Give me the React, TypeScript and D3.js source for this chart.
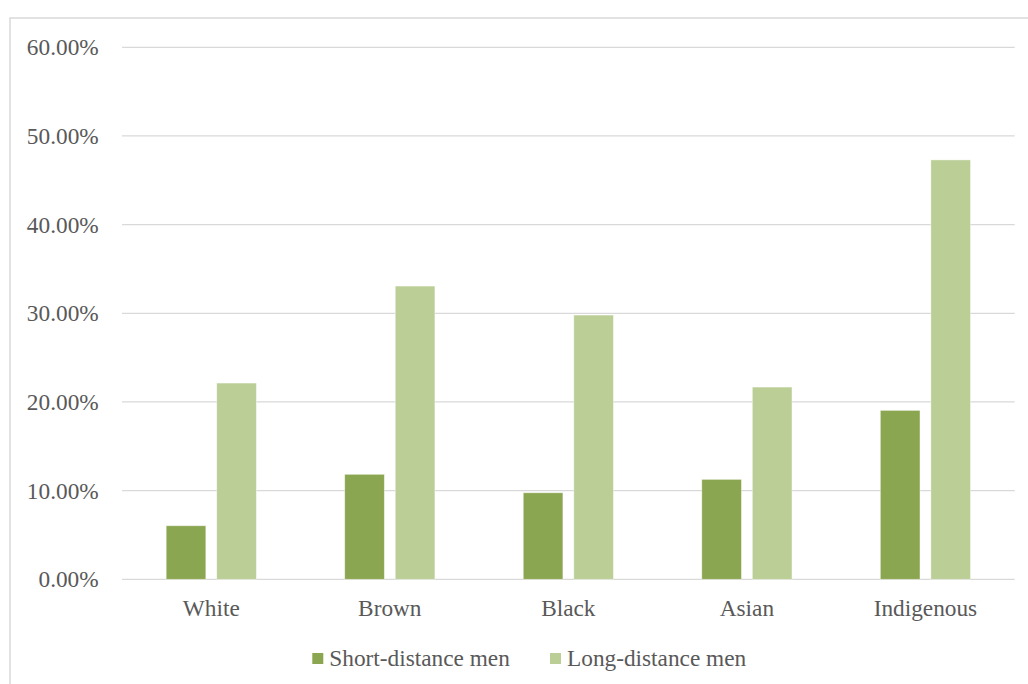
import React from "react";
import * as d3 from "d3";

const categories = ["White", "Brown", "Black", "Asian", "Indigenous"];
const seriesNames = ["Short-distance men", "Long-distance men"];
const shortDistance = [6.04, 11.84, 9.76, 11.27, 19.05];
const longDistance = [22.13, 33.07, 29.8, 21.68, 47.3];
const yTicks = [0, 10, 20, 30, 40, 50, 60];
const colors = ["#8BA650", "#BACE96"];

const W = 1028;
const H = 684;
const FONT = '"Liberation Serif", "DejaVu Serif", serif';
const TEXT = "#595959";
const textStyle = { fontFamily: FONT, fontSize: "23.3px" };

export default function App() {
  const x = d3.scaleBand<string>().domain(categories).range([122, 1014.7]).padding(0);
  const y = d3.scaleLinear().domain([0, 60]).range([579.3, 47.3]);
  const bw = x.bandwidth();
  const barW = bw * 0.222;
  const gap = barW * 0.275;
  const groupW = barW * 2 + gap;
  const inner = d3
    .scaleBand<string>()
    .domain(seriesNames)
    .range([-groupW / 2, groupW / 2])
    .paddingInner(gap / (barW + gap));
  const values = [shortDistance, longDistance];

  const legendItems = [
    { name: seriesNames[0], sx: 312.3, tx: 329.3 },
    { name: seriesNames[1], sx: 550, tx: 567 },
  ];

  return (
    <svg
      width={W}
      height={H}
      style={{ position: "absolute", left: 0, top: 0, background: "#fff" }}
    >
      <rect x={0} y={0} width={W} height={H} fill="#fff" />
      <rect x={10} y={18} width={W + 20} height={H + 20} fill="none" stroke="#d9d9d9" strokeWidth={1.5} />
      {yTicks.map((t) => (
        <g key={t}>
          <line x1={122} x2={1014.7} y1={y(t)} y2={y(t)} stroke="#d9d9d9" strokeWidth={1.3} />
          <text x={98.7} y={y(t) + 8} textAnchor="end" style={textStyle} fill={TEXT}>
            {t.toFixed(2) + "%"}
          </text>
        </g>
      ))}
      {categories.map((c, i) => {
        const cx = (x(c) as number) + bw / 2;
        return (
          <g key={c}>
            {seriesNames.map((s, j) => {
              const v = values[j][i];
              return (
                <rect
                  key={s}
                  x={cx + (inner(s) as number)}
                  width={inner.bandwidth()}
                  y={y(v)}
                  height={y(0) - y(v)}
                  fill={colors[j]}
                  stroke="#ffffff"
                  strokeOpacity={0.5}
                  strokeWidth={0.8}
                />
              );
            })}
            <text x={cx} y={616} textAnchor="middle" style={textStyle} fill={TEXT}>
              {c}
            </text>
          </g>
        );
      })}
      {legendItems.map((l, j) => (
        <g key={l.name}>
          <rect x={l.sx} y={653} width={11} height={11} fill={colors[j]} />
          <text x={l.tx} y={666} style={textStyle} fill={TEXT}>
            {l.name}
          </text>
        </g>
      ))}
    </svg>
  );
}
